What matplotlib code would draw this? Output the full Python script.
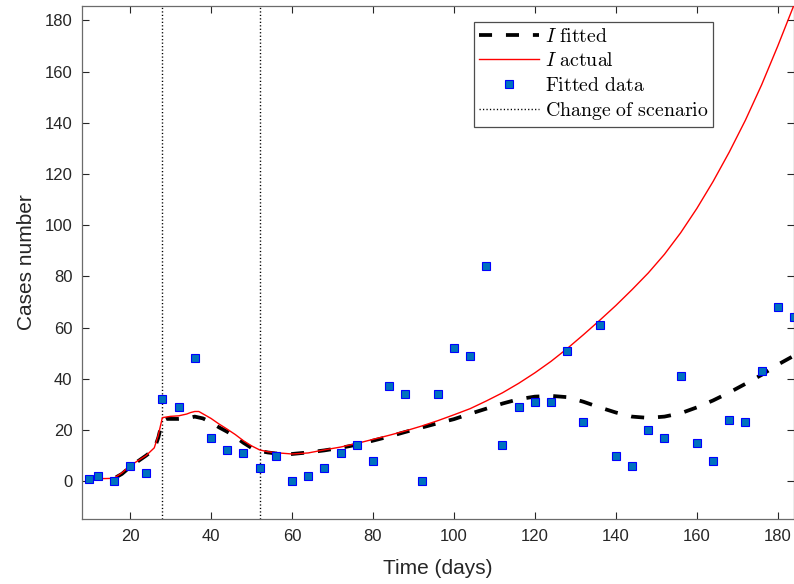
import matplotlib
matplotlib.use("Agg")
import matplotlib.pyplot as plt

plt.rcParams['font.family'] = ['Liberation Sans', 'DejaVu Sans']
plt.rcParams['mathtext.fontset'] = 'cm'
plt.rcParams['lines.scale_dashes'] = False

# ---- data ----
days_data = [10, 12, 16, 20, 24, 28, 32, 36, 40, 44, 48, 52, 56, 60, 64, 68, 72, 76, 80, 84,
             88, 92, 96, 100, 104, 108, 112, 116, 120, 124, 128, 132, 136, 140, 144, 148,
             152, 156, 160, 164, 168, 172, 176, 180, 184]
cases_data = [1, 2, 0, 6, 3, 32, 29, 48, 17, 12, 11, 5, 10, 0, 2, 5, 11, 14, 8, 37,
              34, 0, 34, 52, 49, 84, 14, 29, 31, 31, 51, 23, 61, 10, 6, 20,
              17, 41, 15, 8, 24, 23, 43, 68, 64]

days_fit = [10, 12, 14, 16, 18, 20, 22, 24, 26, 27, 28, 29, 32, 34, 36, 38, 40, 42, 44, 46,
            48, 50, 52, 54, 56, 60, 64, 68, 72, 76, 80, 84, 88, 92, 96, 100, 104, 108,
            112, 116, 120, 124, 128, 132, 136, 140, 144, 148, 152, 156, 160, 164, 168,
            172, 176, 180, 184]
i_fitted = [1.0, 1.0, 0.8, 1.0, 2.8, 5.5, 7.8, 10.0, 12.5, 17.0, 23.5, 24.3, 24.3, 24.5,
            25.2, 24.5, 23.0, 21.0, 19.3, 17.3, 15.0, 13.0, 11.8, 11.2, 10.8, 10.6, 11.2,
            12.0, 13.0, 14.2, 15.8, 17.4, 19.2, 20.9, 22.6, 24.2, 26.3, 28.3, 30.3, 32.0,
            33.0, 33.3, 32.8, 31.0, 28.8, 26.8, 25.2, 24.7, 25.2, 26.5, 28.8, 31.5, 34.6,
            38.0, 41.5, 45.5, 49.0]

days_act = [10, 12, 14, 16, 18, 20, 22, 24, 26, 27, 28, 30, 32, 34, 35, 36, 37, 38, 40, 42,
            44, 46, 48, 50, 52, 54, 56, 60, 64, 68, 72, 76, 80, 84, 88, 92, 96, 100, 104,
            108, 112, 116, 120, 124, 128, 132, 136, 140, 144, 148, 152, 156, 160, 164, 168,
            172, 176, 180, 184]
i_actual = [1.0, 1.0, 1.0, 1.1, 3.2, 6.0, 8.0, 10.0, 13.0, 18.0, 24.8, 25.3, 25.5, 26.2,
            26.8, 27.2, 27.2, 26.3, 24.5, 22.3, 20.3, 18.2, 15.8, 13.8, 12.2, 11.5, 11.1,
            10.6, 11.0, 12.2, 13.3, 14.7, 16.3, 17.9, 19.6, 21.5, 23.6, 25.9, 28.3, 31.3,
            34.5, 38.2, 42.3, 46.8, 51.8, 57.2, 62.8, 68.6, 74.8, 81.3, 88.6, 97.0, 106.5,
            117.0, 128.5, 141.0, 154.8, 170.0, 186.0]

scenario_changes = [28, 52]
xticks = [20, 40, 60, 80, 100, 120, 140, 160, 180]
yticks = [0, 20, 40, 60, 80, 100, 120, 140, 160, 180]

# ---- figure ----
fig = plt.figure(figsize=(7.94, 5.84), dpi=100)
ax = fig.add_axes([82/794, 1 - 519/584, 712/794, (519 - 5.5)/584])

axis_col = '#262626'

h_fit, = ax.plot(days_fit, i_fitted, color='black', lw=2.7, linestyle=(0, (9.4, 10.0)),
                 dash_capstyle='butt', label=r'$I\ \mathrm{fitted}$', zorder=3)
h_act, = ax.plot(days_act, i_actual, color='red', lw=1.0, label=r'$I\ \mathrm{actual}$', zorder=4)
h_dat, = ax.plot(days_data, cases_data, linestyle='none', marker='s', markersize=5.8,
                 markerfacecolor='#0072BD', markeredgecolor='#0000FF', markeredgewidth=0.8,
                 label=r'$\mathrm{Fitted\ data}$', zorder=5, clip_on=True)
h_vl = None
for xv in scenario_changes:
    h_vl = ax.axvline(xv, color='black', lw=1.0, linestyle=(0, (0.9, 1.6)), zorder=2)
h_vl.set_label(r'$\mathrm{Change\ of\ scenario}$')

ax.set_xlim(8.15, 184.0)
ax.set_ylim(-14.8, 185.8)
ax.set_xticks(xticks)
ax.set_yticks(yticks)

ax.tick_params(direction='in', length=4.8, width=0.8, colors=axis_col, labelsize=12,
               top=True, right=True, pad=7)
for s in ax.spines.values():
    s.set_color('#6b6b6b')
    s.set_linewidth(0.9)

ax.set_xlabel('Time (days)', fontsize=15, color=axis_col, labelpad=11)
ax.set_ylabel('Cases number', fontsize=15, color=axis_col, labelpad=6)

leg = ax.legend(handles=[h_fit, h_act, h_dat, h_vl], loc='upper left',
                bbox_to_anchor=((474 - 82)/712, (519 - 22)/513.5), borderaxespad=0,
                fontsize=14.3, handlelength=3.0, handletextpad=0.3, labelspacing=0.27,
                borderpad=0.25, fancybox=False, framealpha=1, edgecolor='#4d4d4d',
                numpoints=1)
leg.get_frame().set_linewidth(0.9)

fig.savefig('out.png', dpi=100)
